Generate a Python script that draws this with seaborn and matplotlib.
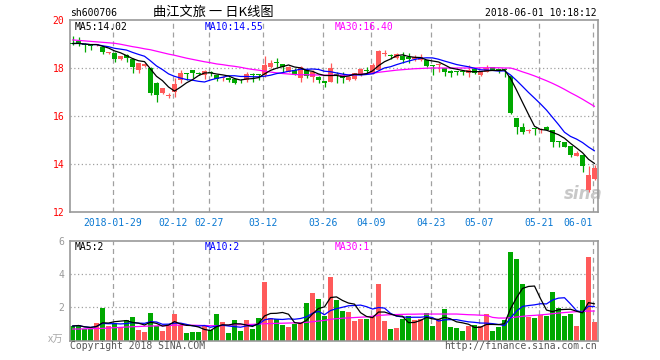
import numpy as np
import pandas as pd
import matplotlib
matplotlib.use("Agg")
import matplotlib.pyplot as plt
import seaborn as sns

# ---------------- data ----------------
dates = ["01-18","01-19","01-22","01-23","01-24","01-25","01-26","01-29","01-30","01-31",
         "02-01","02-02","02-05","02-06","02-07","02-08","02-09","02-12","02-13","02-14",
         "02-22","02-23","02-26","02-27","02-28","03-01","03-02","03-05","03-06","03-07",
         "03-08","03-09","03-12","03-13","03-14","03-15","03-16","03-19","03-20","03-21",
         "03-22","03-23","03-26","03-27","03-28","03-29","03-30","04-02","04-03","04-04",
         "04-09","04-10","04-11","04-12","04-13","04-16","04-17","04-18","04-19","04-20",
         "04-23","04-24","04-25","04-26","04-27","05-02","05-03","05-04","05-07","05-08",
         "05-09","05-10","05-11","05-14","05-15","05-16","05-17","05-18","05-21","05-22",
         "05-23","05-24","05-25","05-28","05-29","05-30","05-31","06-01"]

open_ = [19.05,19.14,19.00,18.93,18.95,18.86,18.62,18.64,18.36,18.55,
         18.36,17.92,18.10,18.00,17.36,16.94,16.85,17.00,17.50,17.80,
         17.92,17.81,17.71,17.84,17.71,17.60,17.60,17.53,17.50,17.50,
         17.72,17.72,17.71,18.06,18.22,18.15,17.85,17.92,17.60,17.92,
         17.64,17.64,17.47,17.43,17.72,17.71,17.50,17.53,17.71,17.90,
         17.76,17.92,18.58,18.55,18.42,18.50,18.47,18.38,18.33,18.33,
         18.12,18.12,17.99,17.89,17.86,17.86,17.78,17.94,17.71,17.85,
         18.03,17.93,17.94,17.67,15.93,15.53,15.36,15.47,15.42,15.55,
         15.40,14.95,14.93,14.76,14.35,14.38,12.92,13.38]
high = [19.35,19.30,19.03,18.96,19.02,18.90,18.68,18.66,18.52,18.58,
        18.40,18.20,18.22,18.05,17.40,17.15,16.95,17.57,17.92,17.80,
        17.92,17.82,17.90,17.86,17.72,17.65,17.62,17.55,17.53,17.85,
        17.78,17.75,18.50,18.33,18.40,18.17,18.10,18.00,18.10,17.95,
        17.90,17.65,17.47,18.22,17.85,17.85,17.67,17.80,18.00,18.05,
        18.20,18.75,18.75,18.58,18.64,18.68,18.64,18.55,18.60,18.35,
        18.14,18.20,18.00,17.92,17.89,17.92,18.12,17.96,17.87,18.12,
        18.04,17.94,17.99,17.70,15.93,15.70,15.47,15.48,15.52,15.57,
        15.42,14.97,14.93,14.77,14.55,14.38,13.92,13.96]
low = [18.96,18.92,18.68,18.75,18.90,18.60,18.58,18.26,18.33,18.26,
       17.80,17.78,18.05,16.88,16.60,16.90,16.75,16.80,17.36,17.50,
       17.60,17.70,17.53,17.66,17.45,17.45,17.43,17.35,17.39,17.43,
       17.43,17.50,17.64,17.99,18.06,17.78,17.83,17.70,17.43,17.57,
       17.43,17.39,17.19,17.40,17.36,17.36,17.47,17.50,17.68,17.78,
       17.74,17.90,18.48,18.36,18.38,18.19,18.20,18.30,18.30,18.06,
       17.71,17.85,17.67,17.64,17.71,17.71,17.64,17.75,17.68,17.83,
       17.90,17.81,17.64,16.10,15.25,15.24,15.28,15.20,15.30,15.40,
       14.72,14.72,14.70,14.30,14.33,13.65,12.85,13.32]
close = [19.02,19.03,18.95,18.90,18.98,18.68,18.65,18.36,18.50,18.40,
         18.06,18.19,18.18,16.97,16.87,17.15,16.88,17.33,17.78,17.77,
         17.80,17.73,17.89,17.80,17.53,17.62,17.50,17.36,17.48,17.75,
         17.70,17.70,18.13,18.22,18.20,18.03,18.05,17.71,18.03,17.67,
         17.85,17.50,17.39,18.02,17.70,17.57,17.64,17.78,17.96,17.88,
         18.14,18.71,18.62,18.52,18.57,18.33,18.36,18.45,18.47,18.08,
         18.10,18.16,17.85,17.81,17.84,17.84,17.92,17.81,17.85,17.99,
         17.92,17.91,17.92,16.11,15.56,15.35,15.39,15.45,15.45,15.40,
         14.90,14.90,14.72,14.38,14.45,13.90,13.53,13.85]
# MA30 of price
ma30_price = [19.17,19.15,19.13,19.11,19.09,19.07,19.05,19.03,18.99,18.94,
              18.89,18.85,18.80,18.76,18.70,18.64,18.58,18.53,18.47,18.41,
              18.36,18.31,18.26,18.22,18.17,18.14,18.10,18.07,18.03,17.98,
              17.94,17.91,17.87,17.83,17.80,17.77,17.75,17.73,17.72,17.72,
              17.71,17.71,17.70,17.70,17.70,17.70,17.71,17.72,17.74,17.76,
              17.78,17.82,17.85,17.88,17.91,17.93,17.95,17.97,17.98,17.99,
              18.00,18.00,18.00,18.00,18.00,18.00,18.00,18.00,18.01,18.01,
              18.01,18.01,18.00,18.00,17.93,17.84,17.76,17.67,17.57,17.47,
              17.36,17.24,17.11,16.97,16.84,16.70,16.55,16.40]
volume = [0.88,0.94,0.68,0.68,1.08,1.98,0.88,1.08,0.85,1.25,
          1.42,0.65,0.55,1.67,0.90,0.60,0.95,1.62,0.95,0.48,
          0.53,0.53,0.88,0.62,1.62,1.12,0.47,1.25,0.60,1.25,
          0.70,1.35,3.52,1.35,1.30,0.95,0.83,1.02,1.05,2.25,
          2.85,2.50,1.50,3.85,2.44,1.78,1.72,1.18,1.30,1.30,
          1.42,3.40,1.18,0.70,0.76,1.30,1.48,1.24,1.30,1.66,
          0.88,1.30,1.90,0.82,0.76,0.58,0.88,0.94,0.88,1.60,
          0.58,0.82,1.24,5.32,4.90,3.40,1.42,1.36,1.54,1.48,
          2.92,1.96,1.48,1.60,0.88,2.44,5.02,1.12]
ma30_vol = [0.70,0.70,0.71,0.72,0.73,0.74,0.76,0.78,0.80,0.82,
            0.84,0.85,0.87,0.88,0.89,0.90,0.91,0.93,0.94,0.94,
            0.93,0.92,0.91,0.90,0.90,0.91,0.93,0.95,0.96,0.97,
            0.98,1.00,1.02,1.03,1.04,1.05,1.06,1.07,1.08,1.10,
            1.14,1.18,1.22,1.28,1.32,1.35,1.37,1.39,1.41,1.43,
            1.47,1.52,1.54,1.56,1.57,1.58,1.59,1.59,1.60,1.60,
            1.60,1.60,1.60,1.60,1.60,1.58,1.56,1.55,1.53,1.52,
            1.40,1.36,1.36,1.38,1.42,1.46,1.50,1.52,1.55,1.58,
            1.62,1.66,1.69,1.72,1.74,1.76,1.78,1.78]

tick_dates = ["01-29","02-12","02-27","03-12","03-26","04-09","04-23","05-07","05-21","06-01"]
tick_labels = ["2018-01-29","02-12","02-27","03-12","03-26","04-09","04-23","05-07","05-21","06-01"]
price_ticks = [12, 14, 16, 18, 20]
vol_ticks = [2, 4, 6]

# ---------------- styling ----------------
sns.set_style("white")
plt.rcParams["font.family"] = ["DejaVu Sans Mono", "Noto Sans CJK SC"]
UP = "#ff5a5a"
DOWN = "#00a800"
GRID = "#a0a0a0"
W, H = 660, 360

df = pd.DataFrame({"date": dates, "open": open_, "high": high, "low": low,
                   "close": close, "volume": volume,
                   "ma30": ma30_price, "vma30": ma30_vol})
df["i"] = np.arange(len(df))
df["ma5"] = df["close"].rolling(5, min_periods=1).mean()
df["ma10"] = df["close"].rolling(10, min_periods=1).mean()
df["vma5"] = df["volume"].rolling(5, min_periods=1).mean()
df["vma10"] = df["volume"].rolling(10, min_periods=1).mean()
df["up"] = df["close"] >= df["open"]
df["color"] = np.where(df["up"], UP, DOWN)

fig = plt.figure(figsize=(6.6, 3.6), dpi=100)
ax1 = fig.add_axes([70 / W, 1 - 212 / H, 528 / W, 192 / H])
ax2 = fig.add_axes([70 / W, 1 - 340.7 / H, 528 / W, 100 / H])

xl = ((70 - 72.5) / 6, (598 - 72.5) / 6)
tick_pos = [dates.index(d) - 0.3 for d in tick_dates]

for ax in (ax1, ax2):
    ax.set_xlim(*xl)
    for s in ax.spines.values():
        s.set_color("#999999")
        s.set_linewidth(1.2)
    for xp in tick_pos:
        ax.axvline(xp, color=GRID, lw=0.9, ls=(0, (4, 3)), zorder=0)

# price panel
ax1.set_ylim(12, 20)
for yv in [14, 16, 18]:
    ax1.axhline(yv, color=GRID, lw=0.9, ls=(0, (1, 2)), zorder=0)
ax1.vlines(df["i"], df["low"], df["high"], colors=df["color"], lw=0.9, zorder=2)
body_h = np.maximum((df["close"] - df["open"]).abs(), 0.04)
body_b = np.minimum(df["close"], df["open"])
ax1.bar(df["i"], body_h, bottom=body_b, width=0.8, color=df["color"], lw=0, zorder=3)
sns.lineplot(data=df, x="i", y="ma30", color="#ff00ff", lw=0.9, ax=ax1, zorder=4)
sns.lineplot(data=df, x="i", y="ma10", color="#0000ff", lw=0.9, ax=ax1, zorder=5)
sns.lineplot(data=df, x="i", y="ma5", color="#000000", lw=0.9, ax=ax1, zorder=6)
ax1.set_yticks(price_ticks)
ax1.set_yticklabels([str(t) for t in price_ticks], color="#ff0000", fontsize=7)
ax1.set_xticks(tick_pos)
ax1.set_xticklabels(tick_labels, color="#0a78d2", fontsize=7)
ax1.get_xticklabels()[-1].set_horizontalalignment("right")
ax1.tick_params(axis="both", length=0)
ax1.tick_params(axis="y", pad=4)
ax1.tick_params(axis="x", pad=4)
ax1.set_xlabel("")
ax1.set_ylabel("")
ax1.text(5 / 528, 1 - 6.5 / 192, f"MA5:{df['ma5'].iloc[-1]:.2f}", transform=ax1.transAxes,
         fontsize=7, color="#000000", va="center", ha="left")
ax1.text(135 / 528, 1 - 6.5 / 192, f"MA10:{df['ma10'].iloc[-1]:.2f}", transform=ax1.transAxes,
         fontsize=7, color="#0000ff", va="center", ha="left")
ax1.text(264.7 / 528, 1 - 6.5 / 192, f"MA30:{df['ma30'].iloc[-1]:.2f}", transform=ax1.transAxes,
         fontsize=7, color="#ff00ff", va="center", ha="left")
ax1.text(513 / 528, 1 - 174 / 192, "sina", transform=ax1.transAxes,
         fontsize=12, color="#c8c8c8", fontweight="bold", style="italic",
         family="DejaVu Sans", ha="center", va="center", zorder=1)

# volume panel
ax2.set_ylim(0, 6)
for yv in [2, 4]:
    ax2.axhline(yv, color=GRID, lw=0.9, ls=(0, (1, 2)), zorder=0)
ax2.bar(df["i"], df["volume"], width=0.8, color=df["color"], lw=0, zorder=2)
sns.lineplot(data=df, x="i", y="vma30", color="#ff00ff", lw=0.9, ax=ax2, zorder=4)
sns.lineplot(data=df, x="i", y="vma10", color="#0000ff", lw=0.9, ax=ax2, zorder=5)
sns.lineplot(data=df, x="i", y="vma5", color="#000000", lw=0.9, ax=ax2, zorder=6)
ax2.set_yticks(vol_ticks)
ax2.set_yticklabels([str(t) for t in vol_ticks], color="#999999", fontsize=7)
ax2.set_xticks([])
ax2.tick_params(axis="both", length=0, pad=4)
ax2.set_xlabel("")
ax2.set_ylabel("")
ax2.text(5 / 528, 1 - 6 / 100, f"MA5:{df['vma5'].iloc[-1]:.0f}", transform=ax2.transAxes,
         fontsize=7, color="#000000", va="center", ha="left")
ax2.text(135 / 528, 1 - 6 / 100, f"MA10:{df['vma10'].iloc[-1]:.0f}", transform=ax2.transAxes,
         fontsize=7, color="#0000ff", va="center", ha="left")
ax2.text(264.7 / 528, 1 - 6 / 100, f"MA30:{int(df['vma30'].iloc[-1])}", transform=ax2.transAxes,
         fontsize=7, color="#ff00ff", va="center", ha="left")


def ftext(x, y, s, **kw):
    fig.text(x / W, 1 - y / H, s, **kw)


ftext(70, 12.5, "sh600706", fontsize=7, color="#000000", va="center", ha="left")
ftext(213, 12.5, "曲江文旅 一 日K线图", fontsize=9.5, color="#000000", va="center", ha="center",
      family=["Noto Sans CJK SC", "DejaVu Sans"])
ftext(597, 12.5, "2018-06-01 10:18:12", fontsize=7, color="#000000", va="center", ha="right")
ftext(56, 339.5, "x万", fontsize=7.5, color="#aaaaaa", va="center", ha="center", style="italic",
      family=["Noto Sans CJK SC", "DejaVu Sans"])
ftext(70, 346, "Copyright 2018 SINA.COM", fontsize=7, color="#555555", va="center", ha="left")
ftext(597, 346, "http://finance.sina.com.cn", fontsize=7, color="#555555", va="center", ha="right")

fig.savefig("out.png", dpi=100)
